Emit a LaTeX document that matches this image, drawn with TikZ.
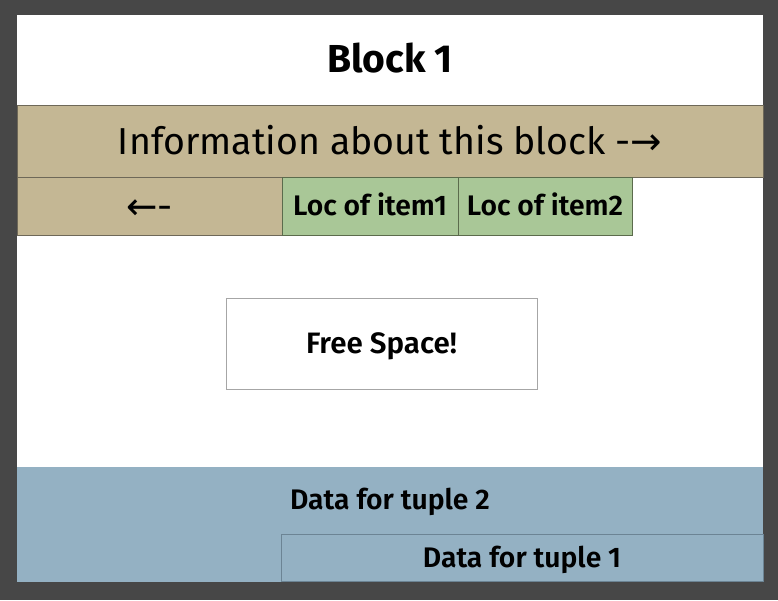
\documentclass[tikz,border=0pt]{standalone}
\usepackage{fontspec}
\setmainfont{Fira Sans}[BoldFont={Fira Sans SemiBold}]
\newfontfamily\titlefont{Fira Sans Bold}
\newfontfamily\arrowfont{DejaVu Sans}
\usetikzlibrary{positioning}
\definecolor{framegray}{HTML}{474747}
\definecolor{headtan}{HTML}{C4B794}
\definecolor{tanline}{HTML}{6E6858}
\definecolor{locgreen}{HTML}{A9C797}
\definecolor{greenline}{HTML}{5B6B4C}
\definecolor{tupleblue}{HTML}{94B1C3}
\definecolor{blueline}{HTML}{6C8494}
\tikzset{
  caps/.style = {text height=#1, text depth=0pt},
  cell/.style = {rectangle, inner sep=0pt, outer sep=0pt, anchor=north west},
  header/.style = {cell, fill=headtan, draw=tanline, line width=0.8pt, font=\fontsize{37.5}{42}\selectfont, caps=26pt},
  locbox/.style = {cell, fill=locgreen, draw=greenline, line width=0.8pt, font=\fontsize{28.3}{32}\selectfont\bfseries, caps=19.5pt},
  tuple/.style = {cell, fill=tupleblue, font=\fontsize{28.3}{32}\selectfont\bfseries, caps=19.5pt}
}
\begin{document}
\begin{tikzpicture}[x=1pt, y=-1pt]

  % Frame
  \fill[framegray] (0,0) rectangle (778,600);
  \fill[white] (17,15) rectangle (763,582);
  \useasboundingbox (0,0) rectangle (778,600);

  % Title
  \node[caps=27pt, font=\fontsize{39}{44}\selectfont\titlefont] (title) at (390,59) {Block 1};

  % Block header
  \node[header, minimum width=746pt, minimum height=72pt] (info) at (17,105) {Information about this block -{\arrowfont →}};
  \node[header, minimum width=265pt, minimum height=58pt] (back) at (17,177) {{\arrowfont ←}-};
  \node[locbox, minimum width=176pt, minimum height=58pt] (loc1) at (282,177) {Loc of item1};
  \node[locbox, minimum width=174pt, minimum height=58pt] (loc2) at (458,177) {Loc of item2};

  % Free space
  \node[cell, draw=gray!70, line width=0.8pt, minimum width=311pt, minimum height=91pt,
        font=\fontsize{29.5}{34}\selectfont\bfseries, caps=20.3pt] (free) at (226,298) {Free Space!};

  % Tuples
  \node[tuple, minimum width=746pt, minimum height=115pt] (tuples) at (17,467) {};
  \node[caps=19.5pt, font=\fontsize{28.3}{32}\selectfont\bfseries] (tuple2) at (390,500) {Data for tuple 2};
  \node[tuple, draw=blueline, line width=0.8pt, minimum width=482pt, minimum height=47pt] (tuple1) at (281,534) {Data for tuple 1};

\end{tikzpicture}
\end{document}
